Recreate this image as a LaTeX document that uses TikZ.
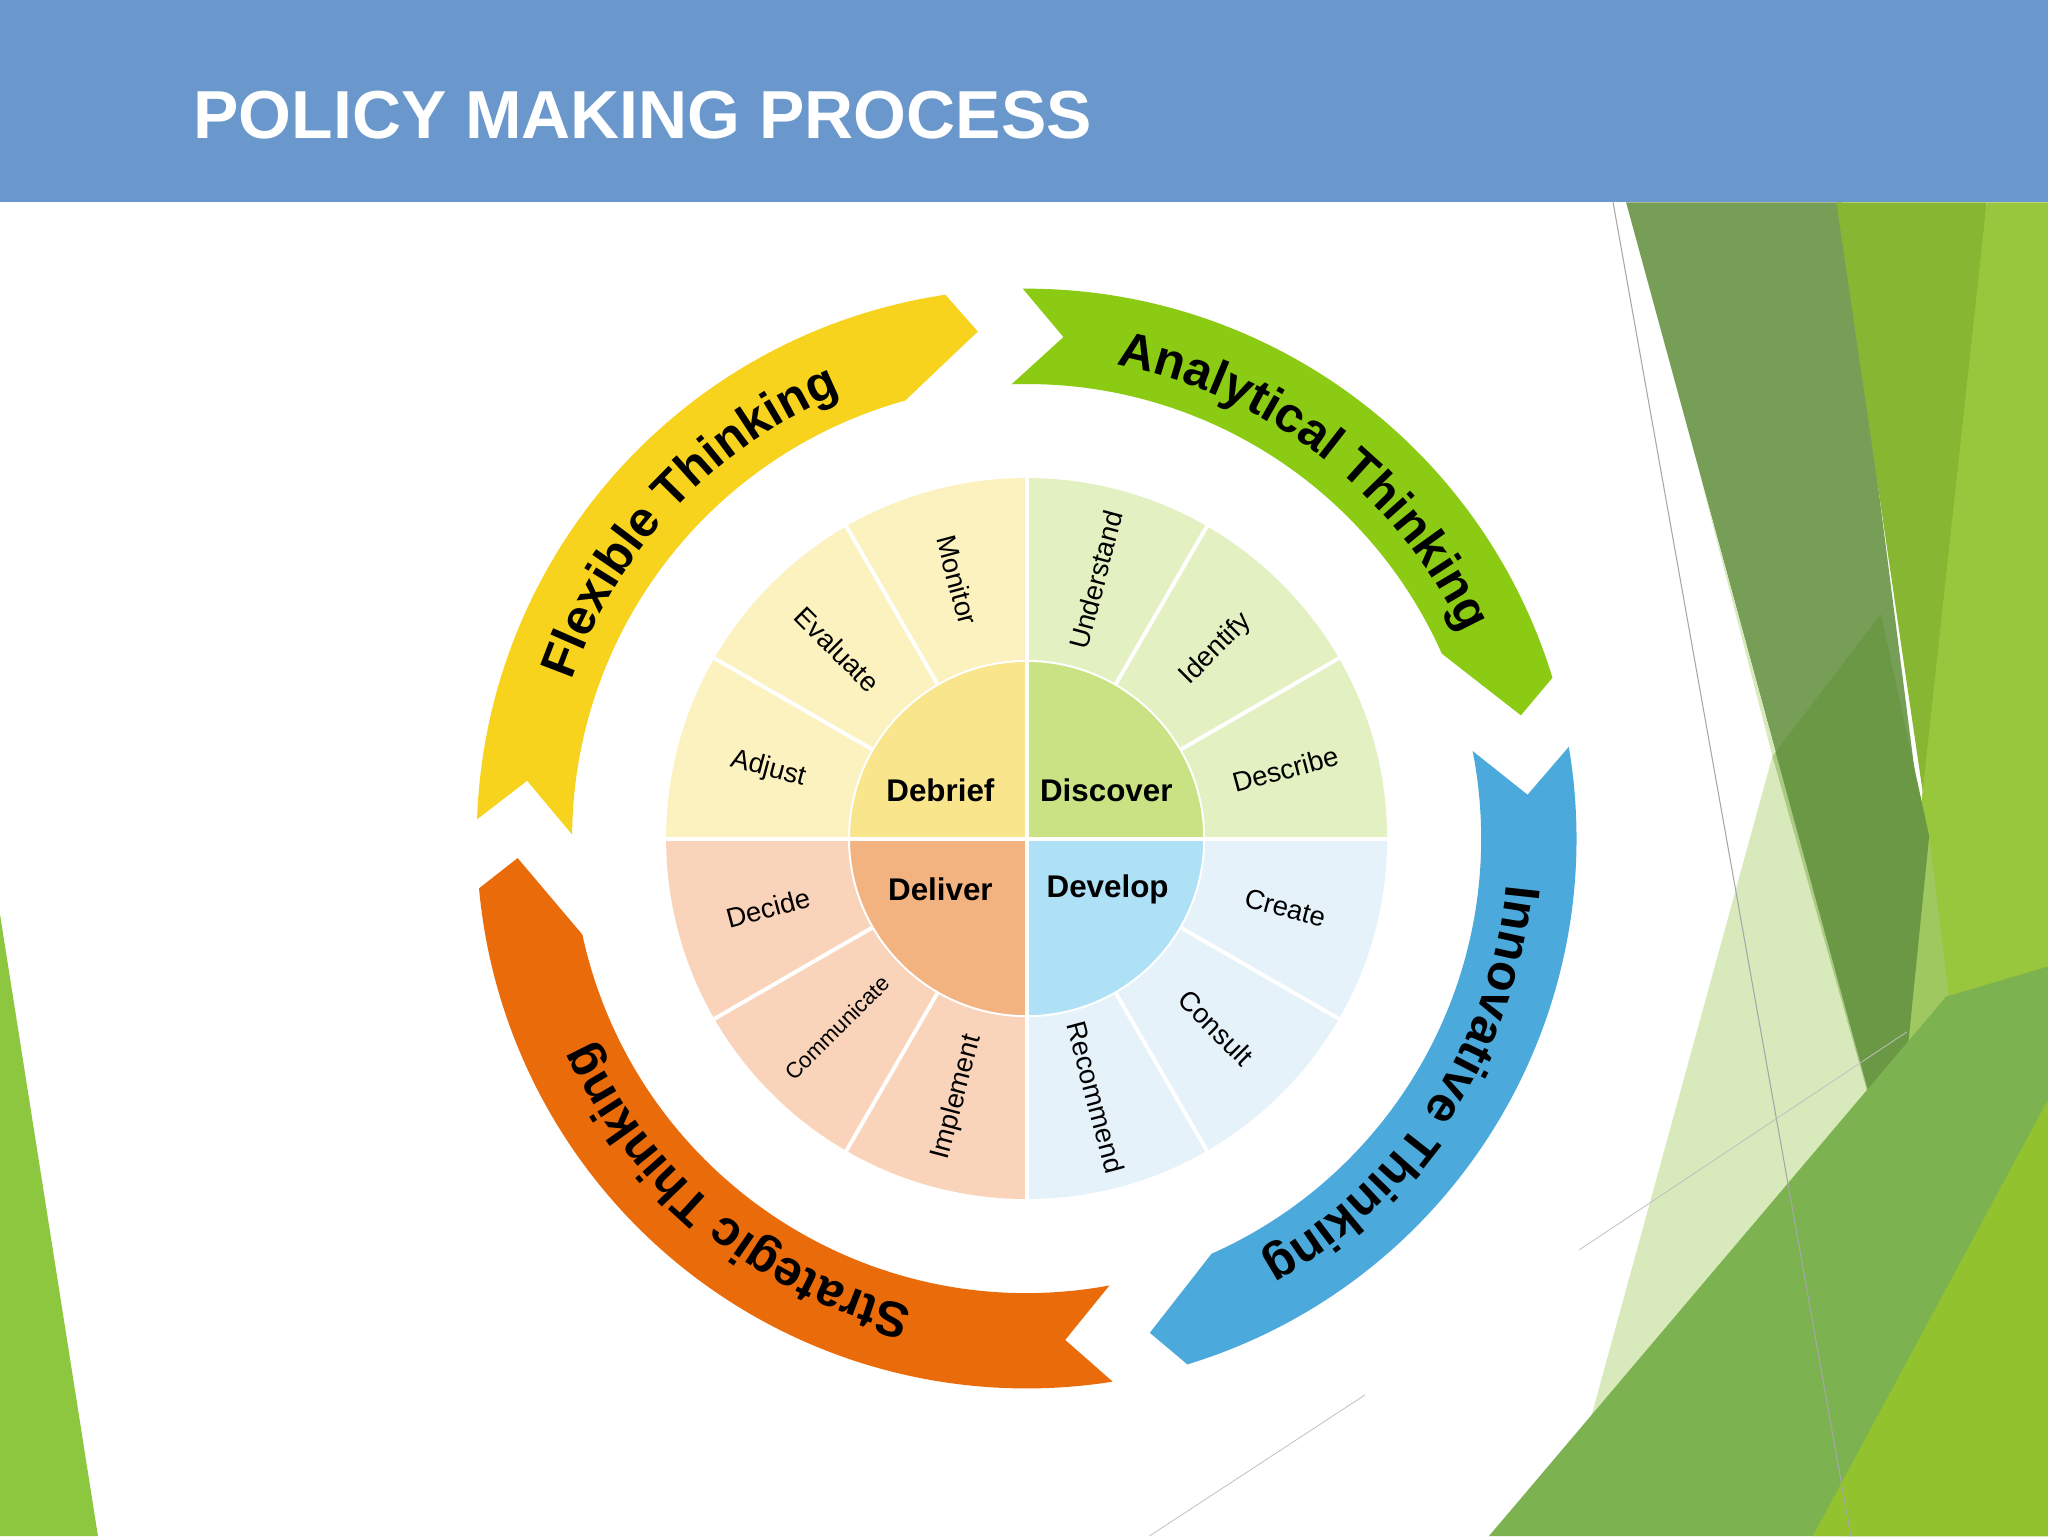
\documentclass[tikz,border=0pt]{standalone}
\usepackage{fontspec}
\setmainfont{Liberation Sans}
\usetikzlibrary{decorations.text}
\definecolor{hdr}{HTML}{6A98CC}
\definecolor{ay}{HTML}{F7D31E}
\definecolor{ag}{HTML}{8CCB13}
\definecolor{ab}{HTML}{4BAADB}
\definecolor{ao}{HTML}{E96B0A}
\definecolor{wy}{HTML}{FBF2C0}
\definecolor{wg}{HTML}{E2F0C2}
\definecolor{wb}{HTML}{E5F2FA}
\definecolor{wo}{HTML}{F9D4BA}
\definecolor{iy}{HTML}{F8E58C}
\definecolor{ig}{HTML}{C9E384}
\definecolor{ib}{HTML}{AEE1F6}
\definecolor{io}{HTML}{F3B381}
\definecolor{bgA}{HTML}{779E56}
\definecolor{bgB}{HTML}{86B632}
\definecolor{bgC}{HTML}{98C63C}
\definecolor{bgD}{HTML}{A0C860}
\definecolor{bgE}{HTML}{6A9845}
\definecolor{bgF}{HTML}{C8E0A0}
\definecolor{bgG}{HTML}{7CB350}
\definecolor{bgH}{HTML}{93C22F}
\definecolor{bgI}{HTML}{8DC63F}
\tikzset{
  lbl/.style={font=\fontsize{21}{21}\selectfont, inner sep=0pt},
  inlbl/.style={font=\fontsize{24}{24}\selectfont\bfseries, inner sep=0pt},
  sep/.style={white, line width=3pt}
}
\begin{document}
\begin{tikzpicture}[x=1pt,y=-1pt]
\useasboundingbox (0,0) rectangle (1568,1176);
\fill[white] (0,0) rectangle (1568,1176);
% background decorations
\fill[bgA] (1245,155) -- (1410,155) -- (1480,700) -- (1450,908) -- cycle;
\fill[bgB] (1406,155) -- (1521,155) -- (1477,640) -- cycle;
\fill[bgC] (1521,155) -- (1568,155) -- (1568,1176) -- (1410,1176) -- cycle;
\fill[bgD] (1477,640) -- (1513,934) -- (1432,1085) -- cycle;
\fill[bgE] (1357,579) -- (1440,470) -- (1477,640) -- (1450,908) -- cycle;
\fill[bgF, opacity=0.7] (1301,362) -- (1450,908) -- (1211,1111) -- (1357,579) -- cycle;
\fill[bgG] (1140,1176) -- (1490,763) -- (1568,740) -- (1568,1176) -- cycle;
\fill[bgH] (1388,1176) -- (1568,842) -- (1568,1176) -- cycle;
\draw[gray!70, line width=0.8pt] (1235,155) -- (1417,1176);
\draw[gray!50, line width=0.6pt] (1209,957) -- (1460,790);
\draw[gray!50, line width=0.6pt] (880,1176) -- (1045,1068);
\fill[bgI] (0,700) -- (0,1176) -- (75,1176) -- cycle;
% header
\fill[hdr] (0,0) rectangle (1568,155);
\node[anchor=base west, inner sep=0pt, text=white, font=\fontsize{52}{52}\selectfont\bfseries] (title) at (148,106) {POLICY MAKING PROCESS};
% wheel
\begin{scope}[shift={(786,642)}, x=1pt, y=1pt]
  \foreach \s/\t/\c/\txt in {178/95.5/ay/Flexible Thinking, 90.4/14/ag/Analytical Thinking, 9.6/-76/ab/Innovative Thinking, -81/-177.8/ao/Strategic Thinking}{
    \fill[\c] (\s:421) arc[start angle=\s, end angle=\t+3, radius=421] -- (\t:390) -- (\t+10:348) arc[start angle=\t+10, end angle=\s+1.5, radius=348] -- (\s-4.6:385) -- cycle;
    \path[decorate, decoration={text along path, text align=center, text={|\fontsize{38}{38}\selectfont\bfseries|\txt}}] (\s:369) arc[start angle=\s, end angle=\t, radius=369];
  }
  \fill[wg] (0,0) -- (0:276) arc[start angle=0, end angle=90, radius=276] -- cycle;
  \fill[wy] (0,0) -- (90:276) arc[start angle=90, end angle=180, radius=276] -- cycle;
  \fill[wo] (0,0) -- (180:276) arc[start angle=180, end angle=270, radius=276] -- cycle;
  \fill[wb] (0,0) -- (270:276) arc[start angle=270, end angle=360, radius=276] -- cycle;
  \fill[ig] (0,0) -- (0:136) arc[start angle=0, end angle=90, radius=136] -- cycle;
  \fill[iy] (0,0) -- (90:136) arc[start angle=90, end angle=180, radius=136] -- cycle;
  \fill[io] (0,0) -- (180:136) arc[start angle=180, end angle=270, radius=136] -- cycle;
  \fill[ib] (0,0) -- (270:136) arc[start angle=270, end angle=360, radius=136] -- cycle;
  \draw[white, line width=1.5pt] (0,0) circle[radius=136];
  \foreach \a in {30,60,120,150,210,240,300,330}{\draw[sep] (\a:136) -- (\a:278);}
  \draw[sep] (0:-278) -- (0:278);
  \draw[sep] (90:-278) -- (90:278);
  \foreach \a/\r/\txt in {75/75/Understand, 45/45/Identify, 15/15/Describe, -15/-15/Create, -45/-45/Consult, -75/-75/Recommend, 255/75/Implement, 195/15/Decide, 165/-15/Adjust, 135/-45/Evaluate, 105/-75/Monitor}{
    \node[lbl, rotate=\r] at (\a:205) {\txt};
  }
  \node[lbl, rotate=45, font=\fontsize{17}{17}\selectfont] (comm) at (225:205) {Communicate};
  \node[inlbl] (debrief) at (-66,37) {Debrief};
  \node[inlbl] (discover) at (61,37) {Discover};
  \node[inlbl] (deliver) at (-66,-39) {Deliver};
  \node[inlbl] (develop) at (62,-39) {Develop};
\end{scope}
\end{tikzpicture}
\end{document}
